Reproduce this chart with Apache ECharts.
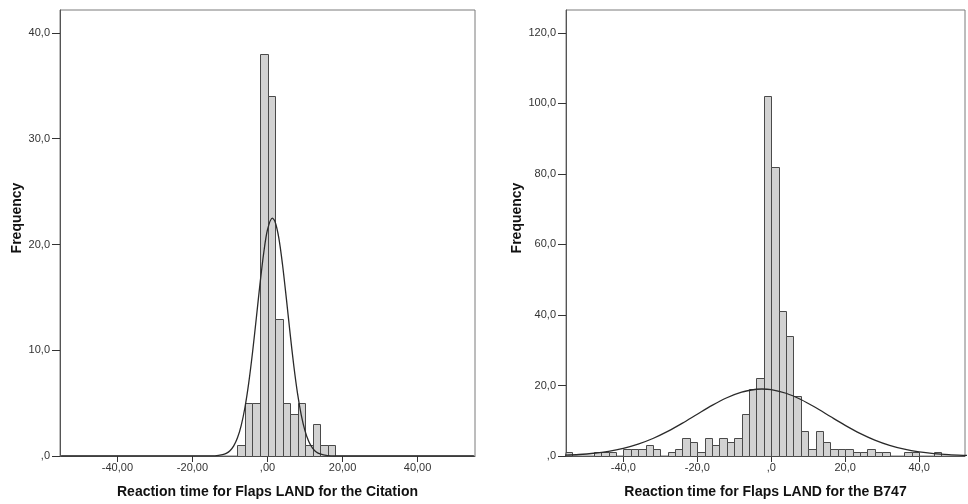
<!DOCTYPE html>
<html>
<head>
<meta charset="utf-8">
<script src="https://cdn.jsdelivr.net/npm/echarts@6/dist/echarts.min.js"></script>
<style>html,body{margin:0;padding:0;background:#fff}#c{width:968px;height:504px}</style>
</head>
<body>
<div id="c"></div>
<script>
// ---- data ----
const binWidth = 2;
const leftBins   = [-8,-6,-4,-2,0,2,4,6,8,10,12,14,16];
const leftCounts = [1,5,5,38,34,13,5,4,5,1,3,1,1];
const rightBins   = [-56,-48,-46,-44,-40,-38,-36,-34,-32,-28,-26,-24,-22,-20,-18,-16,-14,-12,-10,-8,-6,-4,-2,0,2,4,6,8,10,12,14,16,18,20,22,24,26,28,30,36,38,44];
const rightCounts = [1,1,1,1,2,2,2,3,2,1,2,5,4,1,5,3,5,4,5,12,19,22,102,82,41,34,17,7,2,7,4,2,2,2,1,1,2,1,1,1,1,1];
// fitted normal curves
const leftCurveX = [-55,-16,-14,-12,-11,-10,-9,-8,-7,-6,-5,-4,-3,-2,-1,0,1.3,2,3,4,5,6,7,8,9,10,11,12,13,14,16,18,55];
const leftCurveY = [0,0.01,0.02,0.12,0.25,0.5,0.96,1.72,2.9,4.61,6.91,9.76,12.98,16.27,19.22,21.4,22.5,22.17,20.65,18.11,14.97,11.66,8.56,5.92,3.86,2.37,1.37,0.75,0.38,0.19,0.04,0,0];
const rightCurveX = [-56,-52,-48,-44,-40,-36,-32,-28,-24,-20,-16,-12,-8,-4,-2.5,0,4,8,12,16,20,24,28,32,36,40,44,48,52,54];
const rightCurveY = [0.23,0.43,0.78,1.33,2.17,3.36,4.96,6.97,9.31,11.84,14.34,16.53,18.13,18.93,19,18.82,17.8,16.03,13.74,11.2,8.7,6.43,4.52,3.03,1.93,1.17,0.68,0.37,0.19,0.14];
// tick labels
const leftXTicks = [-40,-20,0,20,40];
const leftYTicks = [0,10,20,30,40];
const rightXTicks = [-40,-20,0,20,40];
const rightYTicks = [0,20,40,60,80,100,120];
const leftXTitle = 'Reaction time for Flaps LAND for the Citation';
const rightXTitle = 'Reaction time for Flaps LAND for the B747';
const yTitle = 'Frequency';

const FONT = 'Liberation Sans, Arial, sans-serif';
function fmt(dec){ return v => (v===0 ? ',' + '0'.repeat(dec) : v.toFixed(dec).replace('.', ',')); }

function renderBar(params, api){
  const x0 = api.value(0), y = api.value(1);
  const p0 = api.coord([x0, y]), p1 = api.coord([x0 + binWidth, 0]);
  const xa = Math.round(p0[0]) + 0.5, xb = Math.round(p1[0]) + 0.5;
  const ya = Math.round(p0[1]) + 0.5, yb = Math.round(p1[1]) + 0.5;
  const cs = params.coordSys;
  const r = echarts.graphic.clipRectByRect({x: xa, y: ya, width: xb - xa, height: yb - ya},
    {x: cs.x, y: cs.y, width: cs.width, height: cs.height + 1});
  if (!r) return null;
  return {type: 'rect', shape: r, style: {fill: '#d2d2d2', stroke: '#4a4a4a', lineWidth: 1}};
}

function xAxisCfg(idx, min, max, ticks, dec, title){
  return {
    type: 'value', gridIndex: idx, min: min, max: max,
    name: title, nameLocation: 'middle', nameGap: 29,
    nameTextStyle: {fontFamily: FONT, fontWeight: 'bold', fontSize: 14, color: '#111'},
    axisLine: {show: true, onZero: false, lineStyle: {color: '#555', width: 1}},
    axisTick: {show: true, customValues: ticks, length: 6, lineStyle: {color: '#333'}},
    axisLabel: {customValues: ticks, formatter: fmt(dec), fontFamily: FONT, fontSize: 11, color: '#333', margin: 6},
    splitLine: {show: false}
  };
}
function yAxisCfg(idx, max, ticks){
  return {
    type: 'value', gridIndex: idx, min: 0, max: max,
    name: yTitle, nameLocation: 'middle', nameGap: 36, nameRotate: 90,
    nameTextStyle: {fontFamily: FONT, fontWeight: 'bold', fontSize: 14, color: '#111', padding: [0, 0, 0, 30]},
    axisLine: {show: true, onZero: false, lineStyle: {color: '#555', width: 1}},
    axisTick: {show: true, customValues: ticks, length: 8, lineStyle: {color: '#333'}},
    axisLabel: {customValues: ticks, formatter: fmt(1), fontFamily: FONT, fontSize: 11, color: '#333', margin: 10},
    splitLine: {show: false}
  };
}

const chart = echarts.init(document.getElementById('c'), null, {renderer: 'canvas'});
chart.setOption({
  animation: false,
  backgroundColor: '#fff',
  grid: [
    {left: 60, top: 10, width: 415, height: 446, show: true, borderColor: '#7a7a7a', borderWidth: 1, backgroundColor: 'transparent'},
    {left: 566, top: 10, width: 399, height: 447, show: true, borderColor: '#7a7a7a', borderWidth: 1, backgroundColor: 'transparent'}
  ],
  xAxis: [
    xAxisCfg(0, -55.3, 55.3, leftXTicks, 2, leftXTitle),
    xAxisCfg(1, -55.5, 52.4, rightXTicks, 1, rightXTitle)
  ],
  yAxis: [
    yAxisCfg(0, 42.17, leftYTicks),
    yAxisCfg(1, 126.5, rightYTicks)
  ],
  series: [
    {type: 'custom', xAxisIndex: 0, yAxisIndex: 0, renderItem: renderBar, encode: {x: 0, y: 1},
     data: leftBins.map((b, i) => [b, leftCounts[i]]), z: 2},
    {type: 'custom', xAxisIndex: 1, yAxisIndex: 1, renderItem: renderBar, encode: {x: 0, y: 1},
     data: rightBins.map((b, i) => [b, rightCounts[i]]), z: 2},
    {type: 'line', xAxisIndex: 0, yAxisIndex: 0, showSymbol: false, smooth: 0.3, clip: true,
     lineStyle: {color: '#2a2a2a', width: 1.3}, data: leftCurveX.map((x, i) => [x, leftCurveY[i]]), z: 3},
    {type: 'line', xAxisIndex: 1, yAxisIndex: 1, showSymbol: false, smooth: 0.3, clip: true,
     lineStyle: {color: '#2a2a2a', width: 1.3}, data: rightCurveX.map((x, i) => [x, rightCurveY[i]]), z: 3}
  ]
});
</script>
</body>
</html>
